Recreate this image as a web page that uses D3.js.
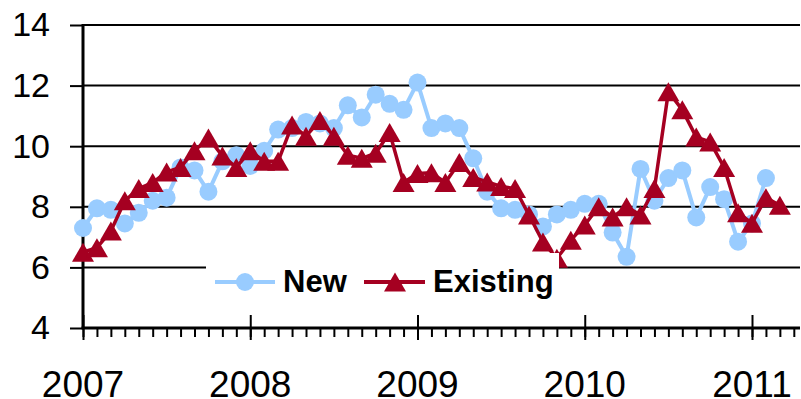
<!DOCTYPE html>
<html>
<head>
<meta charset="utf-8">
<script src="https://cdn.jsdelivr.net/npm/d3@7"></script>
<style>
  body { margin: 0; background: #fff; }
  svg { display: block; font-family: "Liberation Sans", Arial, sans-serif; }
</style>
</head>
<body>
<svg id="chart" width="801" height="399"></svg>
<script>
// Months' supply of homes for sale, monthly from January 2007
const startYear = 2007;
const newHomes = [7.3, 7.95, 7.9, 7.45, 7.8, 8.2, 8.3, 9.3, 9.2, 8.5, 9.5, 9.7,
  9.35, 9.85, 10.55, 10.6, 10.8, 10.75, 10.6, 11.35, 10.95, 11.7, 11.4, 11.2,
  12.1, 10.6, 10.75, 10.6, 9.6, 8.5, 7.95, 7.9, 7.75, 7.35, 7.75, 7.9,
  8.1, 8.1, 7.15, 6.35, 9.25, 8.2, 8.95, 9.2, 7.65, 8.65, 8.25, 6.85,
  7.45, 8.95];
const existingHomes = [6.5, 6.65, 7.2, 8.2, 8.6, 8.8, 9.15, 9.3, 9.85, 10.27, 9.68, 9.3,
  9.85, 9.5, 9.5, 10.7, 10.33, 10.85, 10.33, 9.7, 9.6, 9.77, 10.45, 8.8,
  9.1, 9.12, 8.8, 9.46, 8.97, 8.82, 8.67, 8.6, 7.73, 6.84, 6.3, 6.9,
  7.4, 8.0, 7.66, 8.0, 7.73, 8.6, 11.8, 11.2, 10.3, 10.14, 9.3, 7.8,
  7.46, 8.3, 8.05];
const yTicks = [4, 6, 8, 10, 12, 14];
const yearLabels = ["2007", "2008", "2009", "2010", "2011"];
const seriesNames = ["New", "Existing"];

const blue = "#99CCFF";
const red = "#A50021";

const svg = d3.select("#chart");

// month index -> x, value -> y
const x = d3.scaleLinear().domain([0, 48]).range([83, 752]);
const y = d3.scaleLinear().domain([4, 14]).range([328, 25]);
const xEnd = 800;
const lastMonth = Math.floor(x.invert(xEnd));

// horizontal gridlines
svg.append("g")
  .selectAll("line")
  .data(yTicks.filter(v => v > 4))
  .join("line")
  .attr("x1", x(0)).attr("x2", xEnd)
  .attr("y1", d => y(d)).attr("y2", d => y(d))
  .attr("stroke", "#000").attr("stroke-width", 2);

// y axis
const yAxis = svg.append("g")
  .attr("transform", `translate(${x(0)},0)`)
  .call(d3.axisLeft(y).tickValues(yTicks).tickSize(13).tickPadding(20));
yAxis.select(".domain").remove();
yAxis.selectAll(".tick line").attr("stroke", "#000").attr("stroke-width", 2);
yAxis.selectAll(".tick text")
  .attr("font-size", 34).attr("fill", "#000")
  .attr("font-family", "'Liberation Sans', Arial, sans-serif");
svg.append("line")
  .attr("x1", x(0)).attr("x2", x(0))
  .attr("y1", y(14) - 1).attr("y2", y(4) + 1)
  .attr("stroke", "#000").attr("stroke-width", 3);

// x axis: monthly minor ticks, yearly ticks crossing the line
const months = d3.range(0, lastMonth + 1);
const years = yearLabels.map((d, i) => i * 12);
const xMinor = svg.append("g")
  .attr("transform", `translate(0,${y(4)})`)
  .call(d3.axisBottom(x).tickValues(months).tickSize(9).tickFormat(""));
xMinor.select(".domain").remove();
xMinor.selectAll(".tick line").attr("stroke", "#000").attr("stroke-width", 2);

const xMajor = svg.append("g")
  .attr("transform", `translate(0,${y(4) - 13})`)
  .call(d3.axisBottom(x).tickValues(years).tickSize(25).tickFormat(""));
xMajor.select(".domain").remove();
xMajor.selectAll(".tick line").attr("stroke", "#000").attr("stroke-width", 2);

svg.append("line")
  .attr("x1", x(0) - 1.5).attr("x2", xEnd)
  .attr("y1", y(4)).attr("y2", y(4))
  .attr("stroke", "#000").attr("stroke-width", 3);

svg.append("g")
  .selectAll("text")
  .data(years)
  .join("text")
  .attr("x", d => x(d))
  .attr("y", 397)
  .attr("text-anchor", "middle")
  .attr("font-size", 37)
  .attr("fill", "#000")
  .text((d, i) => yearLabels[i]);

// series
const line = d3.line().x((d, i) => x(i)).y(d => y(d));
const triW = 22, triH = 19;
const triPath = `M0,${-triH / 2}L${triW / 2},${triH / 2}L${-triW / 2},${triH / 2}Z`;

svg.append("path")
  .datum(newHomes)
  .attr("d", line)
  .attr("fill", "none").attr("stroke", blue).attr("stroke-width", 4)
  .attr("stroke-linejoin", "round");
svg.append("g")
  .selectAll("circle")
  .data(newHomes)
  .join("circle")
  .attr("cx", (d, i) => x(i)).attr("cy", d => y(d))
  .attr("r", 9).attr("fill", blue);

svg.append("path")
  .datum(existingHomes)
  .attr("d", line)
  .attr("fill", "none").attr("stroke", red).attr("stroke-width", 3.5)
  .attr("stroke-linejoin", "round");
svg.append("g")
  .selectAll("path")
  .data(existingHomes)
  .join("path")
  .attr("transform", (d, i) => `translate(${x(i)},${y(d)})`)
  .attr("d", triPath).attr("fill", red);

// legend
const legend = svg.append("g");
legend.append("rect")
  .attr("x", 206).attr("y", 253).attr("width", 353).attr("height", 50)
  .attr("fill", "#fff");
const ly = 282;
legend.append("line").attr("x1", 215).attr("x2", 275).attr("y1", ly).attr("y2", ly)
  .attr("stroke", blue).attr("stroke-width", 4);
legend.append("circle").attr("cx", 245).attr("cy", ly).attr("r", 9).attr("fill", blue);
legend.append("text").attr("x", 283).attr("y", 292)
  .attr("font-size", 31).attr("font-weight", "bold").attr("fill", "#000")
  .text(seriesNames[0]);
legend.append("line").attr("x1", 364).attr("x2", 425).attr("y1", ly).attr("y2", ly)
  .attr("stroke", red).attr("stroke-width", 4);
legend.append("path").attr("transform", `translate(395,${ly})`)
  .attr("d", triPath).attr("fill", red);
legend.append("text").attr("x", 433).attr("y", 292)
  .attr("font-size", 31).attr("font-weight", "bold").attr("fill", "#000")
  .text(seriesNames[1]);
</script>
</body>
</html>
